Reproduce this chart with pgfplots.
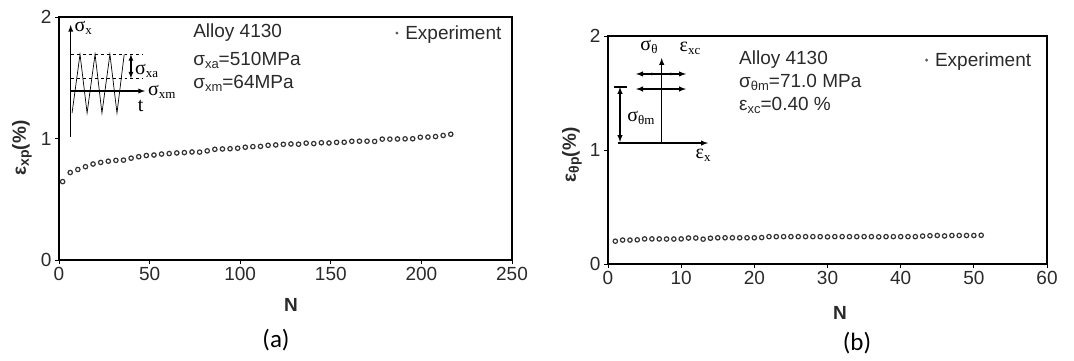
\documentclass[border=0pt]{standalone}
\usepackage{pgfplots}
\pgfplotsset{compat=1.18}
\usepackage{fontspec}
\setmainfont{Liberation Sans}
\newfontfamily\serif{Liberation Serif}
\newfontfamily\calib{Carlito}
\definecolor{txt}{HTML}{2A2A2A}
\definecolor{mk}{HTML}{333333}
\newcommand{\fs}{\fontsize{19bp}{23bp}\selectfont}
\newcommand{\fsi}{\fontsize{20bp}{23bp}\selectfont\serif}
\newcommand{\sub}[1]{\raisebox{-3bp}{\fontsize{13bp}{14bp}\selectfont #1}}

\pgfplotstableread{
N v
2.0 0.645
6.2 0.720
10.4 0.745
14.6 0.768
18.8 0.790
23.0 0.803
27.2 0.813
31.4 0.820
35.6 0.822
39.8 0.838
44.0 0.850
48.2 0.860
52.4 0.864
56.6 0.872
60.8 0.876
65.0 0.881
69.2 0.884
73.4 0.889
77.6 0.888
81.8 0.898
86.0 0.911
90.2 0.914
94.4 0.916
98.6 0.920
102.8 0.928
107.0 0.933
111.2 0.935
115.4 0.944
119.6 0.947
123.8 0.952
128.0 0.955
132.2 0.953
136.4 0.962
140.6 0.958
144.8 0.965
149.0 0.963
153.2 0.968
157.4 0.969
161.6 0.977
165.8 0.978
170.0 0.978
174.2 0.976
178.4 0.995
182.6 0.995
186.8 0.996
191.0 0.997
195.2 0.998
199.4 1.010
203.6 1.012
207.8 1.016
212.0 1.025
216.2 1.035
}\dataA

\pgfplotstableread{
N v
1 0.200
2 0.210
3 0.210
4 0.212
5 0.220
6 0.220
7 0.220
8 0.219
9 0.219
10 0.220
11 0.228
12 0.228
13 0.218
14 0.226
15 0.230
16 0.230
17 0.230
18 0.230
19 0.230
20 0.230
21 0.232
22 0.240
23 0.240
24 0.240
25 0.240
26 0.240
27 0.240
28 0.240
29 0.240
30 0.238
31 0.240
32 0.240
33 0.240
34 0.240
35 0.240
36 0.240
37 0.238
38 0.240
39 0.240
40 0.240
41 0.240
42 0.240
43 0.245
44 0.248
45 0.250
46 0.246
47 0.250
48 0.250
49 0.250
50 0.250
51 0.252
}\dataB

\pgfplotsset{
  myaxis/.style={
    anchor=south west, scale only axis,
    ymin=0, ymax=2, ytick={0,1,2},
    tick align=outside, tick pos=left,
    major tick length=4bp,
    axis line style={line width=1.1bp, black},
    every tick/.style={line width=0.9bp, black},
    tick label style={font=\fs, text=txt},
    /pgf/number format/assume math mode=true,
    legend style={draw=none, fill=none, font=\fs, text=txt, inner sep=0pt,
      legend cell align=left},
    legend image code/.code={\path[draw=none,fill=none] (0,-1bp) rectangle (8bp,1bp);\fill[black!65,draw=none] (1.6bp,0) circle (1.6bp);},
    clip=false,
  },
  pts/.style={only marks, mark=o, mark size=2.2bp, mark options={draw=mk, line width=1.2bp}},
}

\begin{document}
\begin{tikzpicture}[x=1bp,y=1bp]
\useasboundingbox (0,0) rectangle (1074,360);

% ---------------- (a)
\begin{axis}[myaxis, at={(59bp,100bp)}, width=453bp, height=243bp,
  xmin=0, xmax=250, xtick={0,50,...,250},
  legend style={at={(axis cs:185.5,1.868)}, anchor=west}]
\addplot[pts] table[x=N,y=v]{\dataA};
\addlegendentry{Experiment}
% inset
\draw[-latex, line width=1.3bp] (axis cs:6.46,1.015) -- (axis cs:6.46,1.934);
\draw[-latex, line width=1.3bp] (axis cs:6.46,1.391) -- (axis cs:47.5,1.391);
\draw[dashed, line width=1bp] (axis cs:6.46,1.693) -- (axis cs:46.4,1.693);
\draw[dashed, line width=1bp] (axis cs:6.46,1.495) -- (axis cs:46.4,1.495);
\draw[line width=0.7bp] (axis cs:7.2,1.21) -- (axis cs:11.6,1.693) -- (axis cs:15.5,1.21)
  -- (axis cs:19.9,1.693) -- (axis cs:23.7,1.21) -- (axis cs:28.1,1.693) -- (axis cs:32.0,1.21)
  -- (axis cs:36.0,1.693);
\draw[latex-latex, line width=1.2bp] (axis cs:39.7,1.693) -- (axis cs:39.7,1.495);
\node[anchor=west, inner sep=0pt, font=\fsi] at (axis cs:8.5,1.91) {σ\sub{x}};
\node[anchor=west, inner sep=0pt, font=\fsi] at (axis cs:41.9,1.56) {σ\sub{xa}};
\node[anchor=west, inner sep=0pt, font=\fsi] at (axis cs:49.1,1.385) {σ\sub{xm}};
\node[inner sep=0pt, font=\fsi] at (axis cs:45,1.27) {t};
% text block
\node[anchor=west, inner sep=0pt, font=\fs, text=txt] at (axis cs:74,1.868) {Alloy 4130};
\node[anchor=west, inner sep=0pt, font=\fs, text=txt] at (axis cs:74,1.646) {σ\sub{xa}=510MPa};
\node[anchor=west, inner sep=0pt, font=\fs, text=txt] at (axis cs:74,1.457) {σ\sub{xm}=64MPa};
\end{axis}

% ---------------- (b)
\begin{axis}[myaxis, at={(608bp,96bp)}, width=439bp, height=228bp,
  xmin=0, xmax=60, xtick={0,10,...,60},
  legend style={at={(axis cs:43.3,1.789)}, anchor=west}]
\addplot[pts] table[x=N,y=v]{\dataB};
\addlegendentry{Experiment}
% inset
\draw[-latex, line width=1.4bp] (axis cs:7.34,1.061) -- (axis cs:7.34,1.807);
\draw[-latex, line width=1.4bp] (axis cs:1.37,1.061) -- (axis cs:13.67,1.061);
\draw[latex-latex, line width=1.4bp] (axis cs:3.83,1.667) -- (axis cs:10.66,1.667);
\draw[latex-latex, line width=1.4bp] (axis cs:3.83,1.535) -- (axis cs:10.66,1.535);
\fill (axis cs:6.0,1.667) circle (1.5bp);
\fill (axis cs:8.6,1.667) circle (1.5bp);
\fill (axis cs:7.34,1.535) circle (1.5bp);
\draw[latex-latex, line width=1.4bp] (axis cs:1.64,1.553) -- (axis cs:1.64,1.07);
\draw[line width=1.2bp] (axis cs:0.82,1.553) -- (axis cs:2.6,1.553);
\node[inner sep=0pt, font=\fsi] at (axis cs:5.6,1.90) {σ\sub{θ}};
\node[inner sep=0pt, font=\fsi] at (axis cs:11.2,1.89) {ε\sub{xc}};
\node[inner sep=0pt, font=\fsi] at (axis cs:4.5,1.28) {σ\sub{θm}};
\node[inner sep=0pt, font=\fsi] at (axis cs:13.0,0.95) {ε\sub{x}};
% text block
\node[anchor=west, inner sep=0pt, font=\fs, text=txt] at (axis cs:17.9,1.789) {Alloy 4130};
\node[anchor=west, inner sep=0pt, font=\fs, text=txt] at (axis cs:17.9,1.596) {σ\sub{θm}=71.0 MPa};
\node[anchor=west, inner sep=0pt, font=\fs, text=txt] at (axis cs:17.9,1.395) {ε\sub{xc}=0.40 \%};
\end{axis}

% axis labels and captions
\node[rotate=90, font=\fs\bfseries, text=txt] at (22,212) {ε\raisebox{-3bp}{\fontsize{14bp}{15bp}\selectfont\bfseries xp}(\%)};
\node[rotate=90, font=\fs\bfseries, text=txt] at (572,205) {ε\raisebox{-3bp}{\fontsize{14bp}{15bp}\selectfont\bfseries θp}(\%)};
\node[font=\fs\bfseries, text=txt] at (291,55) {N};
\node[font=\fs\bfseries, text=txt] at (840,47) {N};
\node[font=\fontsize{25bp}{29bp}\calib] at (276,20) {(a)};
\node[font=\fontsize{25bp}{29bp}\calib] at (857,17) {(b)};
\end{tikzpicture}
\end{document}
